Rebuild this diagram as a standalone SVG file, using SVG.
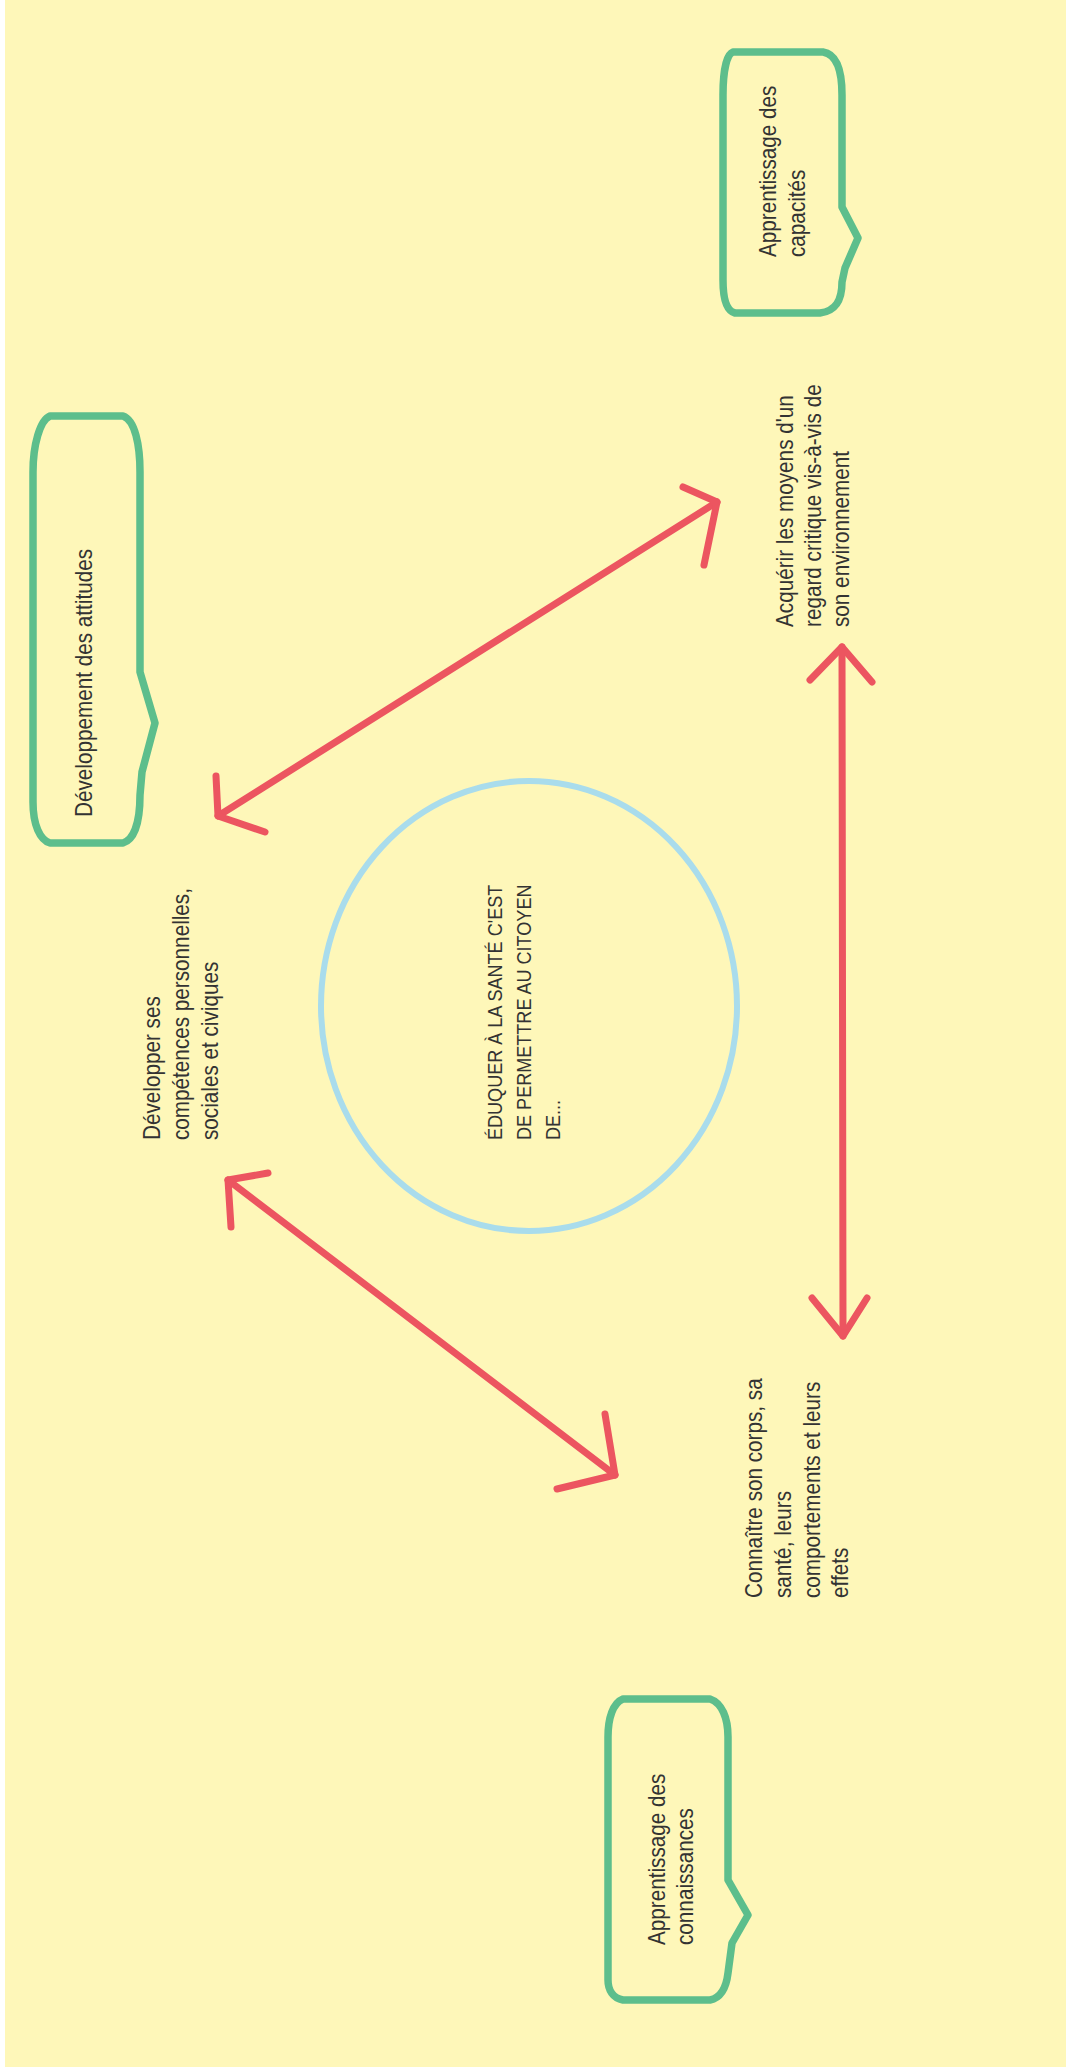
<svg xmlns="http://www.w3.org/2000/svg" width="1066" height="2072" viewBox="0 0 1066 2072">
<style>
.bg{fill:#FEF7B9}
.box{fill:none;stroke:#5DBE8C;stroke-width:7.5;stroke-linejoin:round}
.circ{fill:none;stroke:#A9DCEC;stroke-width:6}
.arr{fill:none;stroke:#EC5560;stroke-width:7;stroke-linecap:round;stroke-linejoin:round}
.t{font-family:"Liberation Sans",Arial,sans-serif;font-size:23px;fill:#333333}
.tc{font-family:"Liberation Sans",Arial,sans-serif;font-size:21px;fill:#333333}
</style>
<rect x="0" y="0" width="1066" height="2072" fill="#FFFFFF"/>
<rect class="bg" x="5" y="0" width="1061" height="2067"/>

<g id="connectors">
  <g id="arrow-competences-regard">
    <path class="arr" d="M218 816 L717 502"/>
    <path class="arr" d="M683 487 L717 502 L704 565"/>
    <path class="arr" d="M216 776 L218 816 L265 832"/>
  </g>
  <g id="arrow-competences-corps">
    <path class="arr" d="M228 1180 L615 1475"/>
    <path class="arr" d="M268 1173 L228 1180 L231 1227"/>
    <path class="arr" d="M605 1414 L615 1475 L557 1489"/>
  </g>
  <g id="arrow-regard-corps">
    <path class="arr" d="M842 647 L843 1336"/>
    <path class="arr" d="M810 680 L842 647 L872 682"/>
    <path class="arr" d="M812 1298 L843 1336 L867 1298"/>
  </g>
</g>

<g id="node-capacites">
  <path class="box" d="M733 52 L823 52 C836 54 842 70 842 95 L842 207 L858 238 L845 268 L842 282 C842 300 836 311 820 313 L735 313 C727 311 723 300 723 280 L723 95 C723 70 727 54 733 52 Z"/>
  <text class="t" transform="translate(776,257) rotate(-90) scale(0.9,1)"><tspan x="0" y="0">Apprentissage des</tspan><tspan x="0" y="29">capacités</tspan></text>
</g>

<g id="node-attitudes">
  <path class="box" d="M50 416 L123 416 C135 420 140 445 140 472 L140 672 L155 723 L142 772 L140 795 C140 825 133 840 123 843 L50 843 C40 840 33 825 33 802 L33 472 C33 445 40 420 50 416 Z"/>
  <text class="t" transform="translate(92,817) rotate(-90) scale(0.9,1)">Développement des attitudes</text>
</g>

<g id="node-connaissances">
  <path class="box" d="M623 1699 L710 1699 C722 1703 728 1718 728 1737 L728 1880 L748 1915 L732 1943 L728 1973 C726 1990 720 1998 710 2000 L623 2000 C613 1998 608 1990 608 1980 L608 1737 C608 1718 613 1703 623 1699 Z"/>
  <text class="t" transform="translate(665,1945) rotate(-90) scale(0.9,1)"><tspan x="0" y="0">Apprentissage des</tspan><tspan x="0" y="28">connaissances</tspan></text>
</g>

<g id="node-centre">
  <ellipse class="circ" cx="529" cy="1006" rx="208" ry="225"/>
  <text class="tc" transform="translate(502,1140) rotate(-90) scale(0.86,1)"><tspan x="0" y="0">ÉDUQUER À LA SANTÉ C'EST</tspan><tspan x="0" y="29">DE PERMETTRE AU CITOYEN</tspan><tspan x="0" y="58">DE...</tspan></text>
</g>

<g id="node-competences">
  <text class="t" transform="translate(160,1140) rotate(-90) scale(0.9,1)"><tspan x="0" y="0">Développer ses</tspan><tspan x="0" y="29">compétences personnelles,</tspan><tspan x="0" y="58">sociales et civiques</tspan></text>
</g>

<g id="node-regard">
  <text class="t" transform="translate(793,627) rotate(-90) scale(0.9,1)"><tspan x="0" y="0">Acquérir les moyens d'un</tspan><tspan x="0" y="28">regard critique vis-à-vis de</tspan><tspan x="0" y="56">son environnement</tspan></text>
</g>

<g id="node-corps">
  <text class="t" transform="translate(762,1598) rotate(-90) scale(0.9,1)"><tspan x="0" y="0">Connaître son corps, sa</tspan><tspan x="0" y="29">santé, leurs</tspan><tspan x="0" y="58">comportements et leurs</tspan><tspan x="0" y="86">effets</tspan></text>
</g>
</svg>
